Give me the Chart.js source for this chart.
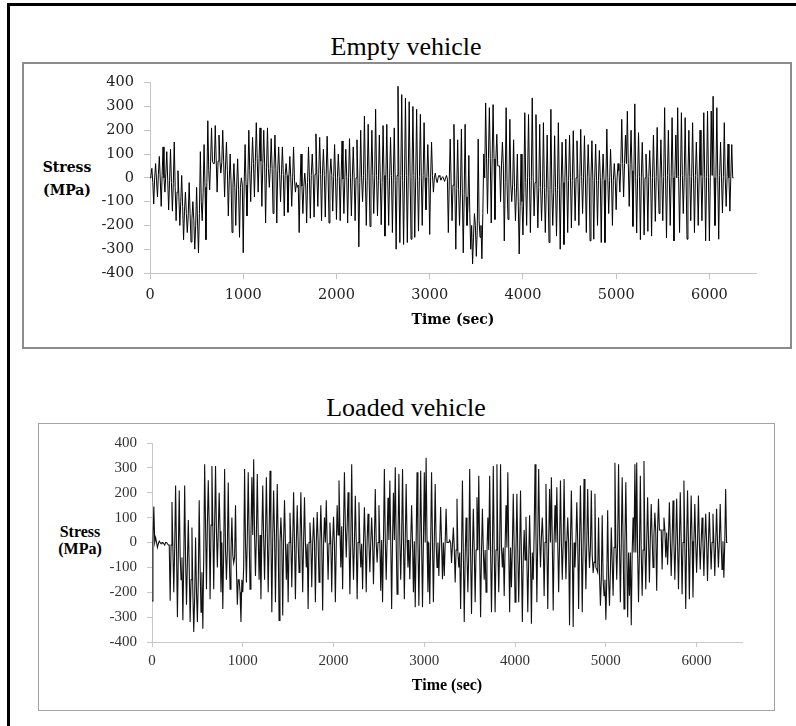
<!DOCTYPE html>
<html><head><meta charset="utf-8">
<script src="https://cdn.jsdelivr.net/npm/chart.js@4.4.0/dist/chart.umd.min.js"></script>
<style>
html,body{margin:0;padding:0;background:#fff;width:796px;height:726px;overflow:hidden}
body{position:relative}
.frame{position:absolute;left:7px;top:3px;width:820px;height:760px;border-top:3px solid #000;border-left:3px solid #000;box-sizing:border-box}
.box{position:absolute;box-sizing:border-box;background:#fff}
#box1{left:22px;top:62px;width:770px;height:287px;border:2px solid #8c8c8c}
#box2{left:38px;top:423px;width:737px;height:288px;border:1px solid #a3a3a3}
.title{position:absolute;font-family:"Liberation Serif","Times New Roman",serif;font-size:26px;line-height:26px;white-space:nowrap;color:#000;transform:translateX(-50%)}
.ylab{position:absolute;text-align:center;white-space:nowrap;color:#000;font-weight:bold}
#ylab1{left:17px;width:100px;top:156px;font-family:"DejaVu Serif",serif;font-size:14px;line-height:23px}
#ylab2{left:30px;width:100px;top:523px;font-family:"Liberation Serif","Times New Roman",serif;font-size:16px;line-height:17px}
canvas{position:absolute}
#c1{left:24px;top:64px}
#c2{left:39px;top:424px}
</style>
</head>
<body>
<div class="frame"></div>
<div class="title" style="left:406px;top:34px">Empty vehicle</div>
<div class="box" id="box1"></div>
<div class="ylab" id="ylab1">Stress<br>(MPa)</div>
<canvas id="c1" width="765" height="282"></canvas>
<div class="title" style="left:406px;top:395px">Loaded vehicle</div>
<div class="box" id="box2"></div>
<div class="ylab" id="ylab2">Stress<br>(MPa)</div>
<canvas id="c2" width="734" height="286"></canvas>
<script>
// sampling interval of the digitised records (seconds)
const timeStepSec = 10;
const xTickValues = [0, 1000, 2000, 3000, 4000, 5000, 6000];
const yTickValues = [-400, -300, -200, -100, 0, 100, 200, 300, 400];

// Empty vehicle stress (MPa), t = 0 .. 6260 s, one row = 200 s
const emptyStress = [
  0, 10, 40, -20, -110, 0, 60, -10, -80, 15, 90, -5, -120, 10, 130, 0, -60, 20, 110, -10,
  -135, -10, 120, -20, -140, -25, 150, -40, -180, -60, 30, -80, -200, -100, 10, -120, -260, -140, -60, -150,
  -230, -160, -20, -150, -270, -170, -100, -180, -300, -200, -40, -190, -315, -150, 110, -100, -180, -60, 140, -40,
  -260, -20, 240, 30, -50, 70, 210, 70, 60, 60, 220, 75, -60, 70, 180, 70, 20, 65, 200, 70,
  -80, 50, 150, 30, -160, -10, 100, -30, -230, -30, 60, -40, -200, -30, 80, -50, -250, -40, 0, -30,
  -315, -30, 140, -30, -160, 0, 200, 30, -100, 50, 170, 60, -80, 70, 232, 80, -60, 80, 210, 70,
  -120, 60, 200, 50, -190, 45, 210, 40, -40, 40, 165, 40, -150, 35, 180, 40, -190, 30, 130, 20,
  -100, 15, 130, 15, -160, 10, 60, 10, -145, 5, 90, 0, -120, 0, 130, -10, -60, -20, -40, -30,
  -230, -30, 100, -35, -150, -35, 20, -30, -190, -20, 130, 0, -170, 10, 100, 15, -165, 15, 185, 15,
  -120, 20, 170, 15, -180, 20, 120, 10, -165, 15, 175, 20, -190, 15, 80, 10, -140, 5, 140, 0,
  -175, 0, 100, 5, -180, 0, 155, -5, -150, 0, 120, 5, -190, 0, 165, 0, -160, -5, 130, 0,
  -180, 0, 160, -10, -290, -20, 200, 0, -100, 10, 260, 0, -200, -10, 225, 20, -205, 0, 200, 10,
  -150, 0, 288, 10, -160, -10, 180, 0, -197, -20, 220, 10, -245, 0, 225, -10, -200, 0, 170, 10,
  -230, 0, 210, -10, -300, 10, 385, 0, -272, 10, 350, -10, -280, 0, 335, 10, -272, 0, 320, 5,
  -258, 0, 300, 10, -250, 0, 288, -10, -224, 5, 267, 0, -200, 10, 232, 0, -134, 5, 140, 0,
  -238, 0, 150, 10, -60, 0, 20, -5, -20, 0, 10, 5, -10, 0, 5, -5, -15, 0, 10, -5,
  -230, -10, 163, -20, -180, -30, 225, -40, -300, -45, 160, -50, -200, -55, 205, -60, -315, -70, 225, -80,
  -200, -120, 94, -150, -300, -200, -362, -250, -150, -200, -330, -220, 163, -180, -250, -200, -340, -150, 100, 0,
  315, 80, -150, 80, 295, 80, -190, 80, 308, 80, -175, 80, 183, 50, 50, 50, -100, 50, 150, 50,
  -265, -20, 295, -30, -175, -30, 246, -30, -100, -30, 160, -40, -180, -60, 100, -100, -320, -120, 100, -100,
  -240, -60, 274, -20, -200, 0, 266, 0, -230, -10, 336, 0, -160, -20, 266, -30, -210, -40, 225, -40,
  -180, -50, 232, -40, -230, -60, 180, -50, -272, -70, 288, -50, -200, -60, 177, -40, -245, -50, 232, -30,
  -300, -30, 150, -20, -280, -10, 163, 0, -230, -10, 180, 0, -210, -10, 198, 0, -180, 0, 156, 0,
  -200, 0, 204, 5, -150, 0, 177, -5, -230, 0, 140, 5, -265, 0, 156, -10, -258, 0, 142, -10,
  -200, -10, 115, 0, -272, -10, 100, -10, -272, -10, 205, 0, -150, -10, 120, 0, -200, -10, 60, -5,
  -134, 0, 60, 30, -60, 60, 246, 60, -80, 60, 180, 60, 280, 60, -120, 55, 200, 30, -204, 10,
  311, 0, -232, 0, 190, 5, -260, 0, 149, -5, -240, 0, 100, 0, -225, 5, 115, 0, -245, 0,
  180, 0, -183, 5, 212, 0, -150, -5, 160, 0, -180, 5, 295, 0, -252, 10, 200, 0, -200, 5,
  253, 0, -265, 10, 180, 0, 295, 5, -230, 0, 274, 10, -150, 0, 253, 5, -258, 0, 200, 5,
  -180, 5, 232, 0, -230, 10, 150, 5, -200, 0, 200, 10, -180, 5, 274, 0, -265, 5, 281, 0,
  -265, 0, 281, 10, 343, 0, -200, 5, 295, 0, -258, 10, 150, 0, -148, 5, 232, 0, -120, 5,
  142, 0, -140, 5, 140, 0, 0
];

// Loaded vehicle stress (MPa), t = 0 .. 6340 s, one row = 200 s
const loadedStress = [
  -235, 0, 145, 0, 20, 0, -20, -5, 5, 0, -5, 0, 0, -5, -10, 0, 0, -5, -10, -10,
  -234, -10, 163, -20, -200, -20, 229, -30, -300, -40, 209, -50, -150, -60, -313, -70, 229, -70, -250, -80,
  90, -100, -320, -150, 60, -200, -360, -220, 20, -200, -320, -150, 170, -100, -280, -120, -347, -60, 315, 70,
  -188, 70, 250, 70, -228, 70, 308, 70, -188, 70, 308, 45, -100, 45, 200, 45, -200, 0, -267, -30,
  295, -30, -150, -30, 241, -30, -188, -40, 100, -50, -82, -60, 150, -100, -250, -150, -150, -200, -320, -150,
  -200, -100, 295, 0, -161, 20, 282, 30, -188, 30, 262, 30, 335, 30, -135, 30, 275, 30, -150, 30,
  -228, 30, 229, 20, -150, 30, 262, 30, -200, 20, 288, 30, -280, 20, 209, 30, -240, 20, 235, 10,
  -313, 0, 100, 0, -293, 5, 170, 0, -150, -5, -240, 0, 120, 0, -180, 5, 202, 0, -228, 0,
  150, 0, -120, 0, 202, 5, -200, 0, 182, 0, -100, -5, -267, 0, 80, 0, -180, -5, 100, 0,
  -240, 0, 123, 5, -160, 0, 150, 0, -273, -5, 100, 0, 170, 0, -150, -5, 80, 0, -200, -5,
  103, -10, -240, -10, 150, 30, 249, 65, -100, 65, -188, 65, 282, 65, -60, 65, 202, 30, -208, 0,
  315, 0, -150, 0, 188, 5, -228, 0, 162, 0, -100, -5, -188, 0, 142, 0, -200, 5, 116, 0,
  -120, 0, 100, 0, -168, 5, 215, 0, -80, 0, 150, 5, -194, 10, -240, 10, 295, 10, -150, 10,
  180, 10, 249, 10, -267, 15, 200, 10, 302, 10, -208, 10, 275, 15, -150, 10, 295, 10, -228, 10,
  235, 10, -100, 10, -148, 0, 150, 0, -200, 5, -260, 0, 282, 0, -254, 5, 288, 0, -260, 0,
  282, 0, 341, 5, -200, 0, -247, 0, 282, 5, -240, 0, 235, 0, -100, 0, -135, 0, 143, 0,
  -148, 0, -135, 0, 136, 0, 0, 0, 10, 0, -82, -10, 60, -20, -161, -30, 176, -40, -100, -40,
  -267, -40, 249, -50, -320, -60, 100, -50, -200, -40, 295, -40, -287, -40, 136, -30, -240, -30, 182, -30,
  268, -30, -300, -40, 136, -30, -150, -30, -200, -40, 100, -30, 268, -30, -280, -40, 308, -30, -280, -30,
  315, -20, -200, -20, 315, -20, -100, -20, -215, -20, 150, -20, 282, -20, -280, -20, -180, -20, 196, -20,
  -240, -30, 196, -40, -240, -50, 209, -60, -320, -70, 50, -70, 103, -70, -280, -70, 110, -60, -327, -40,
  -150, 30, 315, 30, -240, 30, 295, 30, -100, 20, 100, 0, -215, 0, 235, 0, -267, 0, 215, 0,
  262, 0, -273, 5, 150, 0, 222, 0, -200, -5, 249, 0, -150, 0, 255, 5, -148, 0, 100, 0,
  -333, 0, 209, -5, -340, 0, -100, 0, 162, 5, -267, 0, 229, 0, -280, -5, 255, 0, -188, 0,
  215, 0, -102, -20, 209, -50, -122, -80, 196, -100, -108, -120, 100, -130, -254, -150, 110, -150, -214, -150,
  -310, -150, 130, -140, -254, -120, 60, -80, -214, -20, 321, 0, -150, 0, 315, 0, -240, 0, 262, 0,
  -267, 0, 242, -20, -300, -40, -214, -40, -333, -40, 100, -40, 315, -40, 322, -40, -240, -40, 268, -40,
  -214, -30, 328, -10, -188, 0, 182, 10, -161, 20, 155, 20, -100, 30, 120, 40, -194, 50, 176, 50,
  50, 50, -108, 50, 100, 50, -60, 40, -89, 20, 162, 10, -135, 0, 169, 0, -150, 0, 176, 0,
  -188, 0, 202, 5, -208, 0, 249, 0, -267, 5, 209, 0, -228, 0, 189, 5, -221, 0, 155, 0,
  -122, 0, 189, 5, -108, 0, 100, 0, -135, 5, 116, 0, -155, 0, 123, 5, -108, 0, 116, 0,
  -135, 0, 136, 5, -100, 0, 155, 0, -108, 5, -142, 0, 215, 0, 0
];

function makeChart(id, values, cfg) {
  const pts = values.map((v, i) => ({x: i * timeStepSec, y: v}));
  return new Chart(document.getElementById(id), {
    type: 'line',
    data: {datasets: [{data: pts, borderColor: cfg.lineColor, borderWidth: cfg.lineWidth,
      pointRadius: 0, tension: 0, fill: false}]},
    options: {
      responsive: false, animation: false, devicePixelRatio: 1,
      layout: {padding: {left: 0, right: cfg.padRight, top: cfg.padTop, bottom: 0}},
      plugins: {legend: {display: false}, tooltip: {enabled: false}},
      scales: {
        x: {
          type: 'linear', min: 0, max: 6500,
          afterBuildTicks: s => { s.ticks = xTickValues.map(v => ({value: v})); },
          afterFit: s => { s.height = cfg.xHeight; },
          grid: {drawOnChartArea: false, drawTicks: true, tickLength: cfg.tickLen, color: cfg.axisColor, lineWidth: 1},
          border: {color: cfg.axisColor, width: 1},
          ticks: {padding: cfg.xPad, color: cfg.tickColor, font: {family: cfg.family, size: cfg.tickSize},
            maxRotation: 0, autoSkip: false, callback: v => String(v)},
          title: {display: true, text: 'Time (sec)', color: '#000',
            font: {family: cfg.family, size: cfg.titleSize, weight: 'bold'},
            padding: {top: 0, bottom: cfg.titlePadBottom}}
        },
        y: {
          type: 'linear', min: -400, max: 400,
          afterBuildTicks: s => { s.ticks = yTickValues.map(v => ({value: v})); },
          afterFit: s => { s.width = cfg.yWidth; },
          grid: {drawOnChartArea: false, drawTicks: true, tickLength: cfg.tickLen, color: cfg.axisColor, lineWidth: 1},
          border: {color: cfg.axisColor, width: 1},
          ticks: {padding: 10, color: cfg.tickColor, font: {family: cfg.family, size: cfg.tickSize},
            autoSkip: false, callback: v => String(v)}
        }
      }
    }
  });
}

makeChart('c1', emptyStress, {
  lineColor: '#000', lineWidth: 1, padRight: 33, padTop: 16, xHeight: 73, yWidth: 126,
  tickLen: 6, axisColor: '#c4c4c4', xPad: 8, tickColor: '#222', family: '"DejaVu Serif", serif',
  tickSize: 14.5, titleSize: 14, titlePadBottom: 17
});
makeChart('c2', loadedStress, {
  lineColor: '#111', lineWidth: 1.1, padRight: 31, padTop: 16, xHeight: 68, yWidth: 113,
  tickLen: 5, axisColor: '#c8c8c8', xPad: 5, tickColor: '#333', family: '"Liberation Serif", "Times New Roman", serif',
  tickSize: 15, titleSize: 16, titlePadBottom: 15
});
</script>
</body></html>
